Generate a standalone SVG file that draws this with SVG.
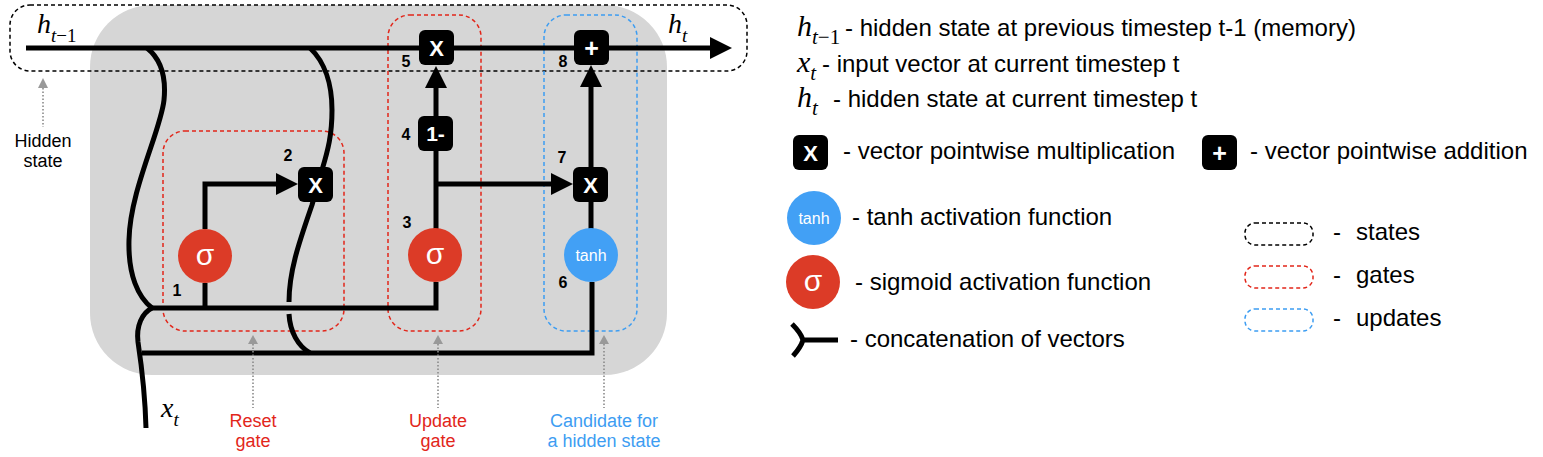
<svg xmlns="http://www.w3.org/2000/svg" width="1543" height="457" viewBox="0 0 1543 457">
<defs>
<style>
.ln{fill:none;stroke:#000;stroke-width:5;stroke-linejoin:miter}
.box{fill:#000}
.bt{fill:#fff;font-family:"Liberation Sans",Arial,sans-serif;font-weight:bold;text-anchor:middle}
.num{font-family:"Liberation Sans",Arial,sans-serif;font-weight:bold;font-size:16px;text-anchor:middle;fill:#000}
.sig{fill:#dc3b27}
.tanh{fill:#42a0f5}
.ct{fill:#fff;font-family:"Liberation Sans",Arial,sans-serif;text-anchor:middle}
.math{font-family:"Liberation Serif","Times New Roman",serif;font-style:italic;fill:#000}
.up{font-style:normal}
.leg{font-family:"Liberation Sans",Arial,sans-serif;font-size:24px;fill:#000}
.lab{font-family:"Liberation Sans",Arial,sans-serif;font-size:18px;text-anchor:middle}
.dk{fill:none;stroke:#000;stroke-width:1.5;stroke-dasharray:4 3}
.dr{fill:none;stroke:#e2261a;stroke-width:1.5;stroke-dasharray:4 3}
.db{fill:none;stroke:#3d9df2;stroke-width:1.5;stroke-dasharray:4 3}
.ann{fill:none;stroke:#8a8a8a;stroke-width:1.6;stroke-dasharray:1.5 2}
.annh{fill:#999}
</style>
<marker id="arr" viewBox="0 0 22 22" refX="12" refY="11" markerWidth="22" markerHeight="22" markerUnits="userSpaceOnUse" orient="auto">
<path d="M0,0 L22,11 L0,22 z" fill="#000"/>
</marker>
</defs>

<g id="cell-background">
<rect x="90" y="5" width="577" height="370" rx="62" ry="62" fill="#d6d6d6"/>
</g>

<g id="groups">
<rect id="states-region" class="dk" x="10" y="5" width="737" height="66" rx="20"/>
<rect id="reset-gate-region" class="dr" x="163" y="131" width="181" height="200" rx="22"/>
<rect id="update-gate-region" class="dr" x="388" y="15" width="93" height="316" rx="22"/>
<rect id="candidate-region" class="db" x="544" y="15" width="93" height="316" rx="22"/>
</g>

<g id="connectors">
<path class="ln" d="M26,48 L722,48" marker-end="url(#arr)"/>
<path class="ln" d="M147,48 C162,60 166,80 164,100 C161,130 130,190 129,240 C128,275 138,297 152,308"/>
<path class="ln" d="M146,428 C145,390 141,362 138,342 C136,326 142,313 152,308"/>
<path class="ln" d="M150,308 L436,308 L436,282"/>
<path class="ln" d="M142,353 L592,353 L592,282"/>
<path class="ln" d="M205,308 L205,283"/>
<path class="ln" d="M205,229 L205,184 L288,184" marker-end="url(#arr)"/>
<path class="ln" d="M310,48 C325,62 332,85 332,110 C332,135 328,150 322,170 L312,205 C300,240 289,270 289,302"/>
<path class="ln" d="M289,314 C290,332 298,346 310,353"/>
<path class="ln" d="M436,229 L436,76" marker-end="url(#arr)"/>
<path class="ln" d="M436,184 L563,184" marker-end="url(#arr)"/>
<path class="ln" d="M591,229 L591,202"/>
<path class="ln" d="M591,167 L591,75" marker-end="url(#arr)"/>
</g>

<g id="node-mul-reset">
<rect class="box" x="298" y="167" width="35" height="35" rx="6"/>
<text class="bt" x="315.5" y="192.5" font-size="22">X</text>
<text class="num" x="288" y="161">2</text>
</g>
<g id="node-mul-prev">
<rect class="box" x="419" y="30" width="35" height="35" rx="6"/>
<text class="bt" x="436.5" y="55.5" font-size="22">X</text>
<text class="num" x="406" y="67">5</text>
</g>
<g id="node-one-minus">
<rect class="box" x="418" y="116" width="35" height="35" rx="6"/>
<text class="bt" x="435.5" y="141" font-size="21">1-</text>
<text class="num" x="406" y="140">4</text>
</g>
<g id="node-mul-cand">
<rect class="box" x="573" y="167" width="35" height="35" rx="6"/>
<text class="bt" x="590.5" y="192.5" font-size="22">X</text>
<text class="num" x="562" y="163">7</text>
</g>
<g id="node-add">
<rect class="box" x="574" y="30" width="35" height="35" rx="6"/>
<text class="bt" x="591.5" y="56.5" font-size="25">+</text>
<text class="num" x="563" y="67">8</text>
</g>
<g id="node-sigma-reset">
<circle class="sig" cx="205" cy="256" r="27"/>
<text class="ct" x="205" y="265" font-size="30">σ</text>
<text class="num" x="177" y="296">1</text>
</g>
<g id="node-sigma-update">
<circle class="sig" cx="435" cy="255" r="27"/>
<text class="ct" x="435" y="264" font-size="30">σ</text>
<text class="num" x="407" y="228">3</text>
</g>
<g id="node-tanh">
<circle class="tanh" cx="591" cy="255" r="27"/>
<text class="ct" x="591" y="261" font-size="16">tanh</text>
<text class="num" x="563" y="288">6</text>
</g>

<g id="state-labels">
<text class="math" x="37" y="33" font-size="28">h<tspan font-size="19" dy="9">t</tspan><tspan class="up" font-size="19">−1</tspan></text>
<text class="math" x="668" y="33" font-size="28">h<tspan font-size="19" dy="9">t</tspan></text>
<text class="math" x="161" y="417" font-size="28">x<tspan font-size="19" dy="9">t</tspan></text>
</g>

<g id="annotations">
<path class="ann" d="M43,88 L43,127"/>
<path class="annh" d="M43,78 L48,88 L38,88 z"/>
<text class="lab" x="43" y="147" fill="#000">Hidden</text>
<text class="lab" x="43" y="167" fill="#000">state</text>
<path class="ann" d="M253,344 L253,408"/>
<path class="annh" d="M253,335 L258,344 L248,344 z"/>
<text class="lab" x="253" y="427" fill="#e2261a">Reset</text>
<text class="lab" x="253" y="447" fill="#e2261a">gate</text>
<path class="ann" d="M438,344 L438,408"/>
<path class="annh" d="M438,335 L443,344 L433,344 z"/>
<text class="lab" x="438" y="427" fill="#e2261a">Update</text>
<text class="lab" x="438" y="447" fill="#e2261a">gate</text>
<path class="ann" d="M604,344 L604,408"/>
<path class="annh" d="M604,335 L609,344 L599,344 z"/>
<text class="lab" x="604" y="427" fill="#3d9df2">Candidate for</text>
<text class="lab" x="604" y="447" fill="#3d9df2">a hidden state</text>
</g>

<g id="legend">
<text class="math" x="797" y="36" font-size="30">h<tspan font-size="21" dy="8">t</tspan><tspan class="up" font-size="21">−1</tspan></text>
<text class="leg" x="845" y="36">- hidden state at previous timestep t-1 (memory)</text>
<text class="math" x="797" y="72" font-size="30">x<tspan font-size="21" dy="8">t</tspan></text>
<text class="leg" x="822" y="72">- input vector at current timestep t</text>
<text class="math" x="797" y="107" font-size="30">h<tspan font-size="21" dy="8">t</tspan></text>
<text class="leg" x="833" y="107">- hidden state at current timestep t</text>

<rect class="box" x="793" y="135" width="35" height="35" rx="6"/>
<text class="bt" x="810.5" y="160.5" font-size="22">X</text>
<text class="leg" x="843" y="159">- vector pointwise multiplication</text>
<rect class="box" x="1202" y="135" width="35" height="35" rx="6"/>
<text class="bt" x="1219.5" y="161.5" font-size="25">+</text>
<text class="leg" x="1250" y="159">- vector pointwise addition</text>

<circle class="tanh" cx="814" cy="218" r="27"/>
<text class="ct" x="814" y="224" font-size="16">tanh</text>
<text class="leg" x="852" y="225">- tanh activation function</text>
<circle class="sig" cx="813" cy="282" r="27"/>
<text class="ct" x="813" y="291" font-size="30">σ</text>
<text class="leg" x="855" y="290">- sigmoid activation function</text>
<path class="ln" d="M792,324 Q801,333 803,340 Q801,347 793,356 M803,340 L838,340"/>
<text class="leg" x="850" y="347">- concatenation of vectors</text>

<rect class="dk" x="1245" y="223" width="68" height="22" rx="10"/>
<text class="leg" x="1333" y="240">-<tspan x="1356">states</tspan></text>
<rect class="dr" x="1245" y="266" width="68" height="22" rx="10"/>
<text class="leg" x="1333" y="283">-<tspan x="1356">gates</tspan></text>
<rect class="db" x="1245" y="309" width="68" height="22" rx="10"/>
<text class="leg" x="1333" y="326">-<tspan x="1356">updates</tspan></text>
</g>
</svg>
